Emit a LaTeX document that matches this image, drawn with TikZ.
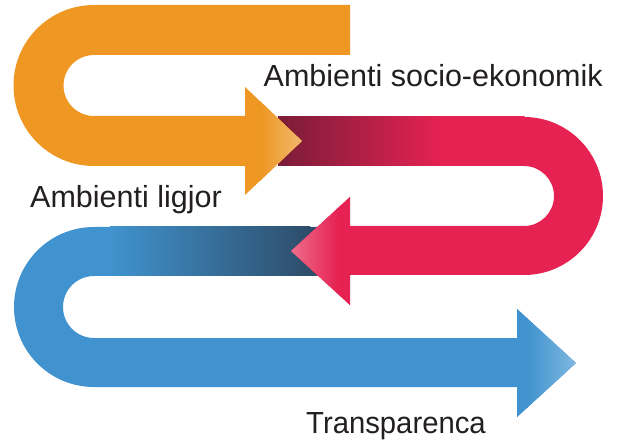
\documentclass[tikz,border=0pt]{standalone}
\usepackage{fontspec}
\setmainfont{Liberation Sans}
\definecolor{cOrange}{HTML}{EE9722}
\definecolor{cOrangeLight}{HTML}{F2B86E}
\definecolor{cRed}{HTML}{E52252}
\definecolor{cMaroon}{HTML}{7A1C38}
\definecolor{cPink}{HTML}{EE6C8A}
\definecolor{cBlue}{HTML}{4093CE}
\definecolor{cBlueDark}{HTML}{2E4D6A}
\definecolor{cBlueLight}{HTML}{80B8E0}
\definecolor{cText}{HTML}{231F20}
\pgfdeclarehorizontalshading{redtop}{100bp}{color(0bp)=(cMaroon); color(25bp)=(cMaroon); color(58bp)=(cRed); color(100bp)=(cRed)}
\tikzset{
  lbl/.style={anchor=base west, inner sep=0pt, text=cText, font=\fontsize{30.5}{36}\selectfont},
}
\begin{document}
\begin{tikzpicture}[x=1pt,y=-1pt]
\useasboundingbox (0,0) rectangle (622,441);
% ---------- blue ribbon ----------
\fill[cBlue] (350,227) -- (94,227) arc[start angle=270, end angle=90, radius=80]
  -- (517,387) -- (517,417) -- (576,363) -- (517,309) -- (517,338)
  -- (94,338) arc[start angle=90, end angle=270, radius=31] -- (350,276) -- cycle;
\shade[left color=cBlue, right color=cBlueDark] (110,227) rectangle (310,276);
\fill[cBlueDark] (309.5,227) rectangle (350,276);
\begin{scope}
  \clip (517,309) -- (576,363) -- (517,417) -- cycle;
  \shade[left color=cBlue, right color=cBlueLight] (527,300) rectangle (576,420);
  \fill[cBlue] (516,300) rectangle (527.5,420);
\end{scope}
% ---------- red ribbon ----------
\fill[cRed] (278,117) -- (524,117) arc[start angle=270, end angle=450, radius=79]
  -- (350,275) -- (350,305) -- (291,251) -- (350,197) -- (350,226)
  -- (524,226) arc[start angle=90, end angle=-90, radius=30] -- (278,166) -- cycle;
\shade[shading=redtop] (278,117) rectangle (524.5,166);
\begin{scope}
  \clip (350,197) -- (291,251) -- (350,305) -- cycle;
  \shade[left color=cPink, right color=cRed] (291,190) rectangle (338,310);
  \fill[cRed] (337.5,190) rectangle (351,310);
\end{scope}
% ---------- orange ribbon ----------
\fill[cOrange] (350,5) -- (94,5) arc[start angle=270, end angle=90, radius=80.5]
  -- (245,166) -- (245,195) -- (302,141) -- (245,87) -- (245,116)
  -- (94,116) arc[start angle=90, end angle=270, radius=30.5] -- (350,55) -- cycle;
\begin{scope}
  \clip (245,87) -- (302,141) -- (245,195) -- cycle;
  \shade[left color=cOrange, right color=cOrangeLight] (260,80) rectangle (302,200);
\end{scope}
% ---------- labels ----------
\node[lbl] (socio) at (263.5,86.7) {Ambienti socio-ekonomik};
\node[lbl] (ligjor) at (30,208) {Ambienti ligjor};
\node[lbl] (transp) at (306,433) {\scalebox{0.96}[1]{Transparenca}};
\end{tikzpicture}
\end{document}
